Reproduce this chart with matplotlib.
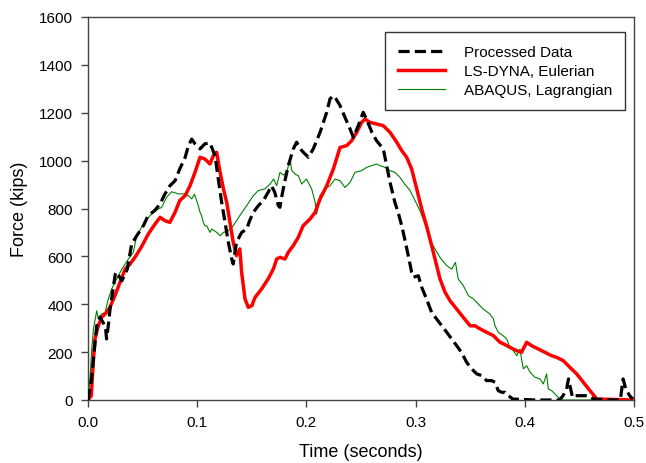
import matplotlib
matplotlib.use("Agg")
import matplotlib.pyplot as plt

# ---- data ----
proc_t = [0.0, 0.003, 0.008, 0.011, 0.016, 0.017, 0.019, 0.020, 0.025, 0.026, 0.031, 0.036,
          0.040, 0.0446, 0.0507, 0.055, 0.061, 0.066, 0.0705, 0.075, 0.0797, 0.084, 0.089,
          0.092, 0.095, 0.098, 0.1026, 0.107, 0.1117, 0.1163, 0.1193, 0.1224, 0.1255, 0.1285,
          0.1316, 0.133, 0.1346, 0.136, 0.1407, 0.1453, 0.148, 0.1514, 0.156, 0.1605, 0.165,
          0.168, 0.171, 0.1743, 0.1758, 0.177, 0.180, 0.1834, 0.188, 0.191, 0.1957, 0.2018,
          0.2063, 0.2125, 0.2186, 0.2216, 0.2247, 0.2262, 0.2308, 0.2353, 0.240, 0.243, 0.2475,
          0.252, 0.255, 0.260, 0.2643, 0.2704, 0.2735, 0.2766, 0.281, 0.284, 0.2873, 0.290,
          0.2933, 0.2964, 0.298, 0.3025, 0.3056, 0.310, 0.3147, 0.3193, 0.324, 0.3285, 0.333,
          0.3376, 0.342, 0.3468, 0.3514, 0.356, 0.3605, 0.365, 0.3697, 0.3727, 0.3757, 0.3789,
          0.382, 0.385, 0.389, 0.41, 0.432, 0.435, 0.4383, 0.44, 0.442, 0.4437, 0.446, 0.4536,
          0.458, 0.463, 0.48, 0.4875, 0.490, 0.4925, 0.496, 0.499]
proc_f = [0, 80, 310, 347, 305, 255, 326, 373, 526, 535, 498, 547,
          652, 686, 728, 770, 791, 819, 861, 895, 916, 965, 1014,
          1063, 1090, 1070, 1049, 1070, 1074, 1021, 923, 826, 742, 659,
          589, 568, 617, 659, 700, 714, 749, 784, 812, 833, 868,
          895, 868, 812, 805, 840, 909, 979, 1049, 1077, 1042, 1014,
          1049, 1118, 1202, 1258, 1271, 1265, 1230, 1181, 1132, 1097, 1146,
          1202, 1174, 1118, 1083, 1049, 979, 909, 826, 784, 728, 673,
          603, 533, 513, 519, 471, 422, 366, 338, 310, 283, 255,
          227, 199, 157, 130, 109, 102, 81, 81, 74, 39, 32,
          32, 18, 4, 0, 0, 18, 46, 88, 46, 11, 18, 18,
          18, 4, 0, 0, 88, 46, 18, 4]

lsdyna_t = [0.0, 0.003, 0.005, 0.0064, 0.0094, 0.0125, 0.017, 0.020, 0.0247, 0.0293, 0.034,
            0.0385, 0.043, 0.049, 0.0553, 0.0614, 0.066, 0.0705, 0.075, 0.0797, 0.084, 0.089,
            0.0934, 0.098, 0.1026, 0.107, 0.1117, 0.1148, 0.1178, 0.121, 0.124, 0.127, 0.130,
            0.133, 0.136, 0.139, 0.1407, 0.1438, 0.1468, 0.150, 0.153, 0.159, 0.165, 0.1697,
            0.1728, 0.1758, 0.1804, 0.1834, 0.188, 0.1926, 0.197, 0.2033, 0.208, 0.2125,
            0.2186, 0.2247, 0.2308, 0.237, 0.2414, 0.246, 0.2506, 0.2537, 0.258, 0.2644,
            0.2704, 0.2766, 0.2827, 0.2873, 0.2918, 0.2964, 0.301, 0.3056, 0.310, 0.3147,
            0.3193, 0.3223, 0.327, 0.3315, 0.3376, 0.3437, 0.350, 0.3544, 0.359, 0.365,
            0.3712, 0.3773, 0.382, 0.3864, 0.3926, 0.397, 0.4017, 0.4063, 0.4124, 0.4185,
            0.4246, 0.4292, 0.4353, 0.4414, 0.4475, 0.4536, 0.4597, 0.466, 0.50]
lsdyna_f = [0, 18, 171, 255, 310, 345, 366, 387, 436, 492, 547,
            568, 596, 640, 694, 735, 763, 749, 742, 784, 833, 854,
            895, 951, 1014, 1007, 986, 1021, 1035, 951, 882, 826, 742,
            659, 603, 631, 533, 422, 387, 394, 429, 464, 506, 547,
            589, 596, 589, 617, 645, 680, 728, 756, 784, 840,
            895, 965, 1055, 1063, 1083, 1118, 1160, 1174, 1160, 1153,
            1146, 1118, 1077, 1042, 1014, 965, 882, 798, 728, 645,
            561, 506, 450, 415, 380, 345, 310, 310, 297, 283,
            269, 241, 231, 220, 206, 199, 241, 227, 213, 199,
            185, 178, 164, 136, 109, 74, 39, 4, 0]

abaqus_t = [0.0, 0.002, 0.0034, 0.005, 0.008, 0.0094, 0.0125, 0.0156, 0.0186, 0.0217, 0.0247,
            0.0278, 0.031, 0.034, 0.037, 0.0415, 0.0446, 0.049, 0.0553, 0.0614, 0.0675, 0.072,
            0.0766, 0.0827, 0.089, 0.092, 0.095, 0.0975, 0.101, 0.1026, 0.104, 0.1056, 0.107,
            0.1087, 0.1117, 0.1133, 0.118, 0.121, 0.124, 0.1285, 0.133, 0.139, 0.1453, 0.1514,
            0.156, 0.162, 0.1667, 0.170, 0.1728, 0.1758, 0.179, 0.182, 0.185, 0.1865, 0.1896,
            0.1926, 0.1957, 0.200, 0.2048, 0.208, 0.2094, 0.2125, 0.217, 0.2216, 0.2262,
            0.2308, 0.2353, 0.240, 0.2445, 0.2506, 0.2552, 0.2598, 0.2643, 0.2674, 0.272,
            0.2766, 0.281, 0.2857, 0.290, 0.2949, 0.2995, 0.304, 0.3086, 0.3132, 0.3178,
            0.3223, 0.3285, 0.333, 0.3365, 0.339, 0.3437, 0.3483, 0.353, 0.3574, 0.362, 0.368,
            0.3712, 0.3727, 0.3757, 0.380, 0.3834, 0.3864, 0.3895, 0.3926, 0.3956, 0.397,
            0.3987, 0.4017, 0.4048, 0.4093, 0.4139, 0.417, 0.42, 0.4215, 0.4246, 0.4277,
            0.4307, 0.434, 0.50]
abaqus_f = [0, 100, 213, 297, 373, 338, 359, 366, 422, 464, 492,
            519, 547, 568, 589, 617, 686, 721, 763, 791, 805, 847,
            870, 861, 861, 854, 840, 860, 812, 784, 770, 742, 728,
            728, 700, 714, 700, 686, 700, 707, 728, 770, 812, 854,
            875, 882, 902, 923, 895, 951, 940, 951, 1007, 960, 944,
            937, 902, 923, 882, 826, 777, 854, 882, 895, 923,
            916, 888, 909, 951, 958, 972, 979, 986, 979, 972,
            958, 951, 930, 902, 875, 833, 791, 735, 666, 631,
            596, 561, 547, 575, 506, 478, 436, 422, 401, 380, 359,
            340, 310, 283, 269, 255, 220, 206, 185, 213, 171,
            130, 143, 116, 95, 88, 67, 109, 46, 39, 25,
            11, 0, 0]

series_labels = ["Processed Data", "LS-DYNA, Eulerian", "ABAQUS, Lagrangian"]
x_ticks = [0.0, 0.1, 0.2, 0.3, 0.4, 0.5]
y_ticks = [0, 200, 400, 600, 800, 1000, 1200, 1400, 1600]

plt.rcParams['font.family'] = ['Liberation Sans', 'DejaVu Sans']

fig = plt.figure(figsize=(6.46, 4.64), dpi=100)
ax = fig.add_axes([88/646, 1 - 401/464, (634 - 88)/646, (401 - 18)/464])

ax.plot(abaqus_t, abaqus_f, color='#008000', lw=0.8, label=series_labels[2], zorder=2)
ax.plot(lsdyna_t, lsdyna_f, color='#ff0000', lw=2.5, label=series_labels[1], zorder=3)
ax.plot(proc_t, proc_f, color='black', lw=2.3, dashes=(3.5, 1.6), label=series_labels[0], zorder=4)

ax.set_xlim(0, 0.5)
ax.set_ylim(0, 1600)
ax.set_xticks(x_ticks)
ax.set_xticklabels([f"{v:.1f}" for v in x_ticks])
ax.set_yticks(y_ticks)
ax.tick_params(axis='both', labelsize=11, length=5, width=1, color='#444444', direction='out', pad=6)
for s in ax.spines.values():
    s.set_color('#444444')
    s.set_linewidth(1)

ax.set_xlabel("Time (seconds)", fontsize=13, labelpad=10)
ax.set_ylabel("Force (kips)", fontsize=13, labelpad=8)

handles, labels = ax.get_legend_handles_labels()
order = [2, 1, 0]
leg = ax.legend([handles[i] for i in order], [labels[i] for i in order],
                loc='upper right', bbox_to_anchor=(0.9835, 0.961), fontsize=11,
                frameon=True, fancybox=False, edgecolor='#333333', framealpha=1,
                borderpad=0.85, handlelength=3.1, handletextpad=1.2, labelspacing=0.33,
                borderaxespad=0)
leg.get_frame().set_linewidth(1)

fig.savefig("out.png", dpi=100)
